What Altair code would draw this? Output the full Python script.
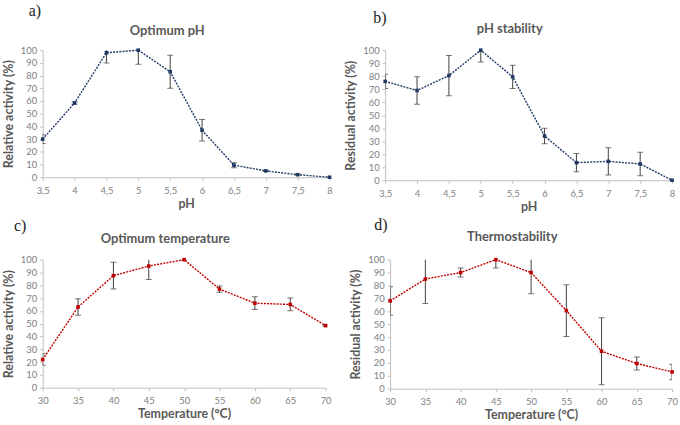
import altair as alt
import pandas as pd

# pH panels
ph = [3.5, 4, 4.5, 5, 5.5, 6, 6.5, 7, 7.5, 8]
opt_ph = [30, 58.5, 98, 100, 83, 37, 9.5, 5, 2, 0]
opt_ph_err = [3.5, 1, 8, 11, 13, 8.5, 2, 0.5, 0.5, 0]
stab_ph = [76, 69, 80.5, 100, 79.5, 34, 13.5, 14.5, 12.5, 0]
stab_ph_err = [5.5, 10.5, 15.5, 9, 9, 6, 7, 10.5, 9, 0]

# temperature panels
temp = [30, 35, 40, 45, 50, 55, 60, 65, 70]
opt_t = [22, 63, 87.5, 95, 100, 77, 66, 65, 48.5]
opt_t_err = [4.5, 6.5, 10.5, 10.5, 0.5, 2.5, 5, 5, 0.5]
stab_t = [68, 85, 90, 100, 90, 60.5, 29, 19.5, 13]
stab_t_err = [11, 19, 3.5, 6.5, 16.5, 20, 26, 5, 6]

FONT = "Lato"
TITLE_GRAY = "#595959"
LABEL_GRAY = "#7F7F7F"
AXIS_GRAY = "#BFBFBF"
ERR_GRAY = "#404040"
NAVY = "#1F3864"
RED = "#C00000"


def panel(xs, ys, errs, color, title, letter, xtitle, ytitle, w, h,
          tag_xy=(-14, -38), head_dy=-19):
    df = pd.DataFrame({"x": xs, "y": ys, "err": errs})
    df["lo"] = df["y"] - df["err"]
    df["hi"] = df["y"] + df["err"]

    common = dict(
        grid=False,
        domainColor=AXIS_GRAY,
        tickColor=AXIS_GRAY,
        tickSize=3,
        labelColor=LABEL_GRAY,
        labelFont=FONT,
        labelFontSize=9.5,
        labelOverlap=False,
        labelFlush=False,
        titleFont=FONT,
        titleFontSize=12.5,
        titleFontWeight="bold",
        titleColor=TITLE_GRAY,
    )
    x_scale = alt.Scale(domain=[xs[0], xs[-1]], nice=False, zero=False)
    x_axis = alt.Axis(
        values=xs,
        title=xtitle,
        labelExpr="replace(format(datum.value, '.1~f'), '.', ',')",
        titlePadding=3,
        labelPadding=5,
        **common,
    )
    y_scale = alt.Scale(domain=[0, 100], nice=False)
    y_axis = alt.Axis(
        values=list(range(0, 101, 10)),
        title=ytitle,
        titlePadding=5,
        labelPadding=3,
        **common,
    )

    def X():
        return alt.X("x:Q", scale=x_scale, axis=x_axis)

    def Y(field):
        return alt.Y(field, scale=y_scale, axis=y_axis)

    base = alt.Chart(df)
    line = base.mark_line(color=color, strokeWidth=1.4, strokeDash=[2, 1.2]).encode(
        x=X(), y=Y("y:Q")
    )
    bars = base.mark_rule(color=ERR_GRAY, strokeWidth=1, clip=True).encode(
        x=X(), y=Y("lo:Q"), y2="hi:Q"
    )
    cap_lo = base.mark_tick(
        orient="horizontal", size=6, thickness=1, color=ERR_GRAY, clip=True
    ).encode(x=X(), y=Y("lo:Q"))
    cap_hi = base.mark_tick(
        orient="horizontal", size=6, thickness=1, color=ERR_GRAY, clip=True
    ).encode(x=X(), y=Y("hi:Q"))
    pts = base.mark_point(filled=True, shape="square", size=13, color=color, opacity=1).encode(
        x=X(), y=Y("y:Q")
    )
    tag = alt.Chart(pd.DataFrame({"t": [letter]})).mark_text(
        font="Liberation Serif", fontSize=16, color="#222222", align="left", baseline="middle"
    ).encode(text="t:N", x=alt.value(tag_xy[0]), y=alt.value(tag_xy[1]))
    head = alt.Chart(pd.DataFrame({"t": [title]})).mark_text(
        font=FONT, fontSize=13, fontWeight="bold", color=TITLE_GRAY,
        align="center", baseline="middle"
    ).encode(text="t:N", x=alt.value(w / 2 - 19), y=alt.value(head_dy))

    return alt.layer(line, bars, cap_lo, cap_hi, pts, tag, head).properties(
        width=w, height=h
    )


a = panel(ph, opt_ph, opt_ph_err, NAVY, "Optimum pH", "a)", "pH",
          "Relative activity (%)", 289, 128, tag_xy=(-14, -39), head_dy=-19)
b = panel(ph, stab_ph, stab_ph_err, NAVY, "pH stability", "b)", "pH",
          "Residual activity (%)", 289, 131, tag_xy=(-12, -32), head_dy=-21)
c = panel(temp, opt_t, opt_t_err, RED, "Optimum temperature", "c)", "Temperature (°C)",
          "Relative activity (%)", 285, 129, tag_xy=(-29, -34), head_dy=-21)
d = panel(temp, stab_t, stab_t_err, RED, "Thermostability", "d)", "Temperature (°C)",
          "Residual activity (%)", 284, 130, tag_xy=(-16, -35), head_dy=-23)

chart = alt.vconcat(
    alt.hconcat(a, b, spacing=12),
    alt.hconcat(c, d, spacing=18),
    spacing=4,
).properties(
    padding={"left": 2, "top": 2, "right": 2, "bottom": 0},
    background="white",
).configure_view(stroke=None)

chart.save("out.html", embed_options={"renderer": "svg", "actions": False})
